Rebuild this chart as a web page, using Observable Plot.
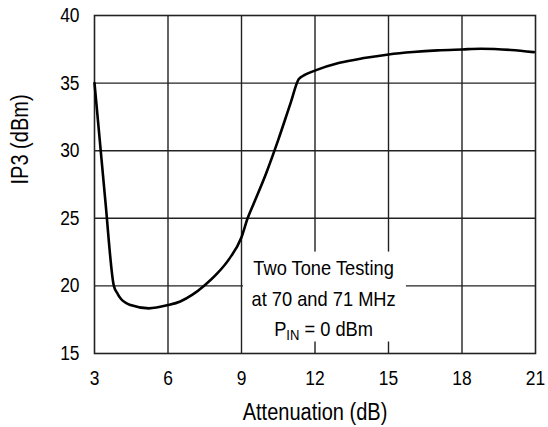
<!DOCTYPE html>
<html>
<head>
<meta charset="utf-8">
<script src="https://cdn.jsdelivr.net/npm/d3@7"></script>
<script src="https://cdn.jsdelivr.net/npm/@observablehq/plot@0.6"></script>
<style>
  html, body { margin: 0; padding: 0; background: #fff; }
  #chart svg { display: block; }
</style>
</head>
<body>
<div id="chart"></div>
<script>
// Data
const attenuation = [3, 3.44, 3.79, 3.95, 4.06, 4.47, 5.22, 6.0, 6.5, 7.0, 7.5, 8.0, 8.5, 9.0, 9.25, 9.5, 10.0, 10.5, 11.0, 11.34, 11.6, 12.02, 13, 14, 15, 16, 17, 18, 18.76, 20, 20.93];
const ip3 = [35, 26.34, 20, 19.4, 19.08, 18.58, 18.34, 18.58, 18.85, 19.35, 20.05, 20.9, 22.0, 23.6, 25.0, 26.1, 28.3, 30.8, 33.5, 35.3, 35.62, 35.94, 36.5, 36.85, 37.12, 37.3, 37.42, 37.49, 37.54, 37.45, 37.29];
const xTicks = [3, 6, 9, 12, 15, 18, 21];
const yTicks = [15, 20, 25, 30, 35, 40];
const xLabel = "Attenuation (dB)";
const yLabel = "IP3 (dBm)";
const noteLines = ["Two Tone Testing", "at 70 and 71 MHz", "PIN = 0 dBm"];
const noteY = [21.29, 19.0, 16.78];
const noteX = 12.35;
const noteBox = {x1: 9.08, x2: 15.73, y1: 15.85, y2: 22.5};

const curve = attenuation.map((a, i) => ({a, v: ip3[i]}));
const font = "'Liberation Sans', Arial, sans-serif";
const condense = 0.87; // the reference uses a condensed grotesque

const chart = Plot.plot({
  width: 548,
  height: 427,
  marginLeft: 94,
  marginRight: 13,
  marginTop: 15,
  marginBottom: 74,
  style: {fontFamily: font, fontSize: "20px", color: "#000", background: "#fff"},
  x: {domain: [3, 21], ticks: xTicks},
  y: {domain: [15, 40], ticks: yTicks},
  marks: [
    Plot.gridX(xTicks.slice(1, -1), {stroke: "#222", strokeOpacity: 1, strokeWidth: 1.4}),
    Plot.gridY(yTicks.slice(1, -1), {stroke: "#222", strokeOpacity: 1, strokeWidth: 1.4}),
    Plot.rect([noteBox], {x1: "x1", x2: "x2", y1: "y1", y2: "y2", fill: "#fff"}),
    Plot.frame({stroke: "#222", strokeWidth: 1.6}),
    Plot.line(curve, {x: "a", y: "v", stroke: "#000", strokeWidth: 2.6, curve: "monotone-x"}),
    Plot.axisX(xTicks, {tickSize: 0, tickPadding: 17, label: null, fontSize: 20}),
    Plot.axisY(yTicks, {tickSize: 0, tickPadding: 15, label: null, fontSize: 20}),
    Plot.text([xLabel], {frameAnchor: "bottom", dy: 66, fontSize: 23, fill: "#000"}),
    Plot.text([yLabel], {frameAnchor: "left", dx: -74, rotate: -90, fontSize: 23, fill: "#000"}),
    Plot.text(noteLines, {x: () => noteX, y: (d, i) => noteY[i], text: d => d, fontSize: 21, fill: "#000"})
  ]
});

const svg = d3.select(chart);
// subscript "IN" in the PIN annotation
svg.selectAll("text").each(function() {
  if (this.textContent === "PIN = 0 dBm") {
    const t = d3.select(this);
    t.text(null);
    t.append("tspan").text("P");
    t.append("tspan").attr("font-size", 15).attr("dy", 4).text("IN");
    t.append("tspan").attr("dy", -4).text(" = 0 dBm");
  }
});

document.getElementById("chart").appendChild(chart);

// condense text horizontally (real text kept, glyphs narrowed)
function condenseEl(el) {
  const len = el.getComputedTextLength();
  if (len > 0) {
    el.setAttribute("textLength", (len * condense).toFixed(2));
    el.setAttribute("lengthAdjust", "spacingAndGlyphs");
  }
}
svg.selectAll("text").each(function() {
  const spans = this.querySelectorAll("tspan");
  if (spans.length) spans.forEach(condenseEl);
  else condenseEl(this);
});
</script>
</body>
</html>
